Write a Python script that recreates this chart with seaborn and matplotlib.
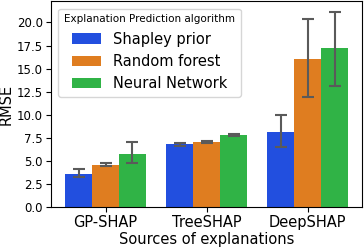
import numpy as np
import pandas as pd
import matplotlib
matplotlib.use("Agg")
import matplotlib.pyplot as plt
import seaborn as sns

# datos
sources = ["GP-SHAP", "TreeSHAP", "DeepSHAP"]
algorithms = ["Shapley prior", "Random forest", "Neural Network"]
rmse = {
    "Shapley prior": [3.6, 6.8, 8.1],
    "Random forest": [4.6, 7.05, 16.0],
    "Neural Network": [5.75, 7.8, 17.25],
}
err_low = {
    "Shapley prior": [3.3, 6.65, 6.5],
    "Random forest": [4.4, 6.95, 11.9],
    "Neural Network": [4.8, 7.65, 13.1],
}
err_high = {
    "Shapley prior": [4.1, 6.9, 9.95],
    "Random forest": [4.8, 7.15, 20.35],
    "Neural Network": [7.05, 7.95, 21.15],
}

rows = []
for alg in algorithms:
    for i, src in enumerate(sources):
        rows.append({"Sources of explanations": src,
                     "Explanation Prediction algorithm": alg,
                     "RMSE": rmse[alg][i],
                     "lo": err_low[alg][i],
                     "hi": err_high[alg][i]})
df = pd.DataFrame(rows)

fig, ax = plt.subplots(figsize=(3.64, 2.48), dpi=100)
sns.barplot(data=df, x="Sources of explanations", y="RMSE",
            hue="Explanation Prediction algorithm", palette="bright",
            saturation=0.75, errorbar=None, ax=ax)

# barras de error en el centro de cada barra
for container, alg in zip(ax.containers, algorithms):
    sub = df[df["Explanation Prediction algorithm"] == alg]
    xs = [p.get_x() + p.get_width() / 2 for p in container.patches]
    ys = sub["RMSE"].values
    yerr = np.vstack([ys - sub["lo"].values, sub["hi"].values - ys])
    ax.errorbar(xs, ys, yerr=yerr, fmt="none", ecolor="#5a5a5a",
                elinewidth=1.5, capsize=4, capthick=1.5)

ax.set_ylim(0, 22.3)
ax.set_yticks(np.arange(0, 22.5, 2.5))
ax.tick_params(axis="y", labelsize=8.5, pad=2.5)
ax.tick_params(axis="x", labelsize=10.5, pad=2.5)
ax.set_xlabel("Sources of explanations", fontsize=10.5, labelpad=1)
ax.set_ylabel("RMSE", fontsize=10.5, labelpad=2)
leg = ax.legend(title="Explanation Prediction algorithm", loc="upper left",
                fontsize=10.5, title_fontsize=7.5)

plt.subplots_adjust(left=0.14, right=0.995, top=0.995, bottom=0.165)
plt.savefig("out.png", dpi=100)
